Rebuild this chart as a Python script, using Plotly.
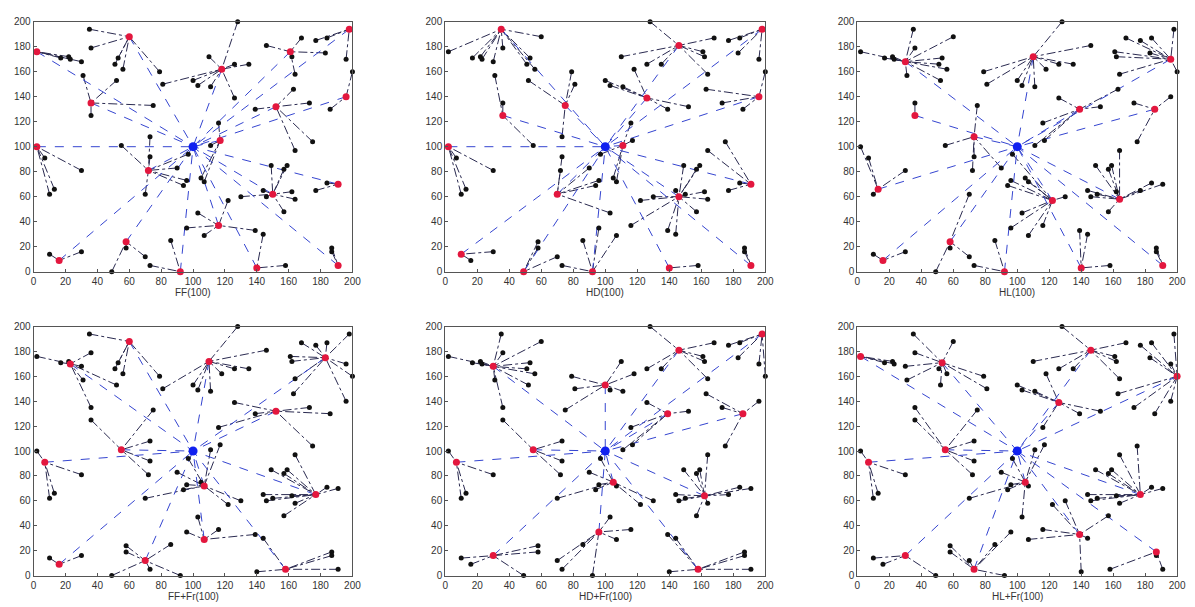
import plotly.graph_objects as go

# ---- sensor node positions (100 nodes), sink at (100,100) ----
node_x = [2, 35, 60, 36, 17, 22, 23, 30, 31, 51,
          53, 56, 52, 36, 36, 75, 79, 81, 100, 103,
          110, 111, 118, 128, 126, 135, 126, 146, 161, 168,
          177, 184, 183, 162, 164, 198, 196, 200, 163, 173,
          186, 196, 152, 139, 116, 117, 111, 175, 164, 73,
          73, 72, 55, 2, 7, 30, 10, 13, 70, 97,
          90, 94, 96, 105, 107, 149, 157, 159, 144, 146,
          150, 162, 164, 157, 130, 122, 177, 184, 191, 103,
          107, 96, 116, 139, 144, 140, 158, 187, 187, 191,
          86, 92, 73, 70, 58, 58, 49, 30, 16, 10]
node_y = [176, 194, 188, 179, 171, 172, 170, 168, 157, 166,
          171, 162, 153, 135, 125, 133, 160, 150, 153, 149,
          172, 148, 162, 200, 166, 166, 139, 181, 176, 187,
          185, 187, 175, 172, 158, 194, 170, 160, 146, 135,
          130, 140, 132, 130, 119, 105, 101, 104, 97, 108,
          92, 81, 101, 100, 91, 81, 62, 66, 62, 94,
          83, 69, 73, 75, 72, 85, 82, 85, 65, 60,
          62, 64, 58, 48, 60, 57, 65, 71, 70, 47,
          29, 35, 37, 33, 30, 3, 5, 19, 16, 5,
          25, 0, 5, 12, 24, 19, 0, 16, 9, 14]
sink_x = 100
sink_y = 100

panel_names = ["FF(100)", "HD(100)", "HL(100)", "FF+Fr(100)", "HD+Fr(100)", "HL+Fr(100)"]

# parent of each node (index of its cluster head); -1 = cluster head linked to the sink
parent_ff = [-1, 2, -1, 2, 0, 0, 0, 0, 13, 2,
             2, 2, 13, -1, 13, 13, 2, 22, 22, 22,
             22, 22, -1, 22, 22, 22, 22, 28, -1, 28,
             35, 35, 28, 28, 28, -1, 35, 41, 42, 42,
             41, -1, -1, 42, 45, -1, 45, 42, 42, 51,
             51, -1, 51, -1, 53, 53, 53, 53, 51, 51,
             51, 51, 51, 45, 45, 70, 70, 70, 70, 70,
             -1, 70, 70, 70, 70, 82, 78, 78, -1, 82,
             82, 82, -1, 82, 85, -1, 85, 89, 89, -1,
             91, -1, 91, 94, -1, 94, 94, 98, -1, 98]
parent_hd = [1, -1, 1, 1, 1, 1, 1, 1, 14, 1,
             1, 1, 15, 14, -1, -1, 15, 15, 26, 26,
             27, 26, 26, 27, 27, 27, -1, -1, 27, 27,
             35, 35, 35, 27, 27, -1, 35, 41, 41, 41,
             41, -1, 26, 26, 46, 46, -1, 78, 78, 15,
             58, 58, 14, -1, 53, 53, 53, 53, -1, 46,
             58, 58, 58, 46, 46, 69, 69, 69, 69, -1,
             69, 69, 69, 69, 69, 69, 78, 78, -1, 58,
             91, 91, 69, 69, 69, -1, 85, 89, 89, -1,
             91, -1, 91, 96, 96, 96, -1, 99, 99, -1]
parent_hl = [7, 7, 7, 7, 7, 7, 7, -1, 7, 7,
             7, 7, 7, 14, -1, 49, 20, 20, 20, 20,
             -1, 20, 20, 20, 20, 20, 43, 20, 36, 36,
             36, 36, 36, 36, 36, 36, -1, 36, 43, 40,
             -1, 40, 43, -1, 43, 43, 43, 40, 72, -1,
             49, 49, 49, 57, 57, 57, 57, -1, 94, 75,
             49, 75, 75, 75, 75, 72, 72, 72, 72, 72,
             72, 72, -1, 72, 75, -1, 72, 72, 72, 75,
             75, 75, 75, 85, 85, -1, 85, 89, 89, -1,
             91, -1, 91, 94, -1, 94, 94, 98, -1, 98]
parent_fffr = [6, 2, -1, 6, 6, 6, -1, 6, 6, 2,
               2, 2, 6, 6, 52, 52, 2, 20, 20, 20,
               -1, 20, 20, 20, 20, 20, 42, 20, 32, 32,
               32, 32, -1, 32, 32, 32, 32, 32, 32, 42,
               42, 32, -1, 42, 42, 64, 64, 42, 76, 52,
               52, 52, -1, 54, -1, 54, 54, 54, 64, 64,
               64, 64, 64, 64, -1, 76, 76, 76, 76, 76,
               76, 76, 76, 76, 64, 64, -1, 76, 76, 80,
               -1, 80, 80, 80, 86, 86, -1, 86, 86, 86,
               93, 93, 93, -1, 93, 93, 93, 98, -1, 98]
parent_hdfr = [7, 7, 7, 7, 7, 7, 7, -1, 7, 7,
               7, 7, 7, 7, 52, 18, 18, 18, -1, 18,
               18, 18, 18, 27, 27, 27, 43, -1, 27, 27,
               35, 35, 35, 27, 27, -1, 35, 35, 40, 40,
               -1, 40, 43, -1, 43, 43, 43, 40, 71, 52,
               52, 52, -1, 54, -1, 54, 54, 54, 63, 63,
               63, 63, 63, -1, 63, 71, 71, 71, 71, 71,
               71, -1, 71, 71, 63, 63, 71, 71, 71, 81,
               81, -1, 81, 86, 86, 86, -1, 86, 86, 86,
               81, 81, 81, 81, 97, 97, 97, -1, 97, 97]
parent_hlfr = [-1, 10, 10, 10, 0, 0, 0, 10, 10, 10,
               -1, 10, 10, 52, 52, 52, 10, 10, 26, 26,
               27, 26, 26, 27, 27, 27, -1, -1, 27, 27,
               37, 37, 37, 27, 27, 37, 37, -1, 37, 37,
               37, 37, 26, 26, 26, 63, 63, 76, 76, 52,
               52, 52, -1, 54, -1, 54, 54, 54, 63, 63,
               63, 63, 63, -1, 63, 76, 76, 76, 76, 76,
               76, 76, 76, 83, 83, 83, -1, 76, 76, 63,
               83, 92, 83, -1, 83, 83, 87, -1, 87, 87,
               92, 92, -1, 92, 92, 92, 97, -1, 97, 97]

parents = [parent_ff, parent_hd, parent_hl, parent_fffr, parent_hdfr, parent_hlfr]

tick_vals = [0, 20, 40, 60, 80, 100, 120, 140, 160, 180, 200]

col_domains = [[0.0259, 0.2954], [0.3738, 0.6444], [0.7222, 0.9925]]
row_domains = [[0.5535, 0.9736], [0.0428, 0.4613]]
title_y = [0.519, 0.0075]

fig = go.Figure()
annotations = []
layout_axes = {}

for p, (name, parent) in enumerate(zip(panel_names, parents)):
    r, c = divmod(p, 3)
    xa = 'x' if p == 0 else f'x{p + 1}'
    ya = 'y' if p == 0 else f'y{p + 1}'
    mx, my, hx, hy = [], [], [], []
    for i, par in enumerate(parent):
        if par >= 0:
            mx += [node_x[i], node_x[par], None]
            my += [node_y[i], node_y[par], None]
        else:
            hx += [node_x[i], sink_x, None]
            hy += [node_y[i], sink_y, None]
    fig.add_trace(go.Scatter(x=mx, y=my, mode='lines', xaxis=xa, yaxis=ya,
                             line=dict(color='#2a2a50', width=1, dash='dashdot'),
                             hoverinfo='skip', showlegend=False))
    fig.add_trace(go.Scatter(x=hx, y=hy, mode='lines', xaxis=xa, yaxis=ya,
                             line=dict(color='#3545d0', width=1, dash='dash'),
                             hoverinfo='skip', showlegend=False))
    bx = [node_x[i] for i in range(len(parent)) if parent[i] >= 0]
    by = [node_y[i] for i in range(len(parent)) if parent[i] >= 0]
    rx = [node_x[i] for i in range(len(parent)) if parent[i] < 0]
    ry = [node_y[i] for i in range(len(parent)) if parent[i] < 0]
    fig.add_trace(go.Scatter(x=bx, y=by, mode='markers', xaxis=xa, yaxis=ya,
                             marker=dict(color='#111111', size=5), cliponaxis=False,
                             showlegend=False))
    fig.add_trace(go.Scatter(x=rx, y=ry, mode='markers', xaxis=xa, yaxis=ya,
                             marker=dict(color='#e3173e', size=7), cliponaxis=False,
                             showlegend=False))
    fig.add_trace(go.Scatter(x=[sink_x], y=[sink_y], mode='markers', xaxis=xa, yaxis=ya,
                             marker=dict(color='#1020f0', size=9), cliponaxis=False,
                             showlegend=False))

    axis_common = dict(range=[0, 200], tickvals=tick_vals, ticks='inside', ticklen=3,
                       tickcolor='#555', showline=True, mirror=True, linecolor='#555',
                       linewidth=1, showgrid=False, zeroline=False,
                       tickfont=dict(size=10, color='#333', family='Liberation Sans'))
    xkey = 'xaxis' if p == 0 else f'xaxis{p + 1}'
    ykey = 'yaxis' if p == 0 else f'yaxis{p + 1}'
    layout_axes[xkey] = dict(domain=col_domains[c], anchor=ya, **axis_common)
    layout_axes[ykey] = dict(domain=row_domains[r], anchor=xa, **axis_common)
    annotations.append(dict(text=name, xref='paper', yref='paper',
                            x=sum(col_domains[c]) / 2, y=title_y[r],
                            xanchor='center', yanchor='middle', showarrow=False,
                            font=dict(size=10, color='#333', family='Liberation Sans')))

fig.update_layout(width=1195, height=607, margin=dict(l=0, r=0, t=0, b=0),
                  paper_bgcolor='white', plot_bgcolor='white',
                  annotations=annotations, **layout_axes)

fig.write_html("out.html", config={'displayModeBar': False},
               post_script="document.body.style.margin='0';document.body.style.overflow='hidden';")
